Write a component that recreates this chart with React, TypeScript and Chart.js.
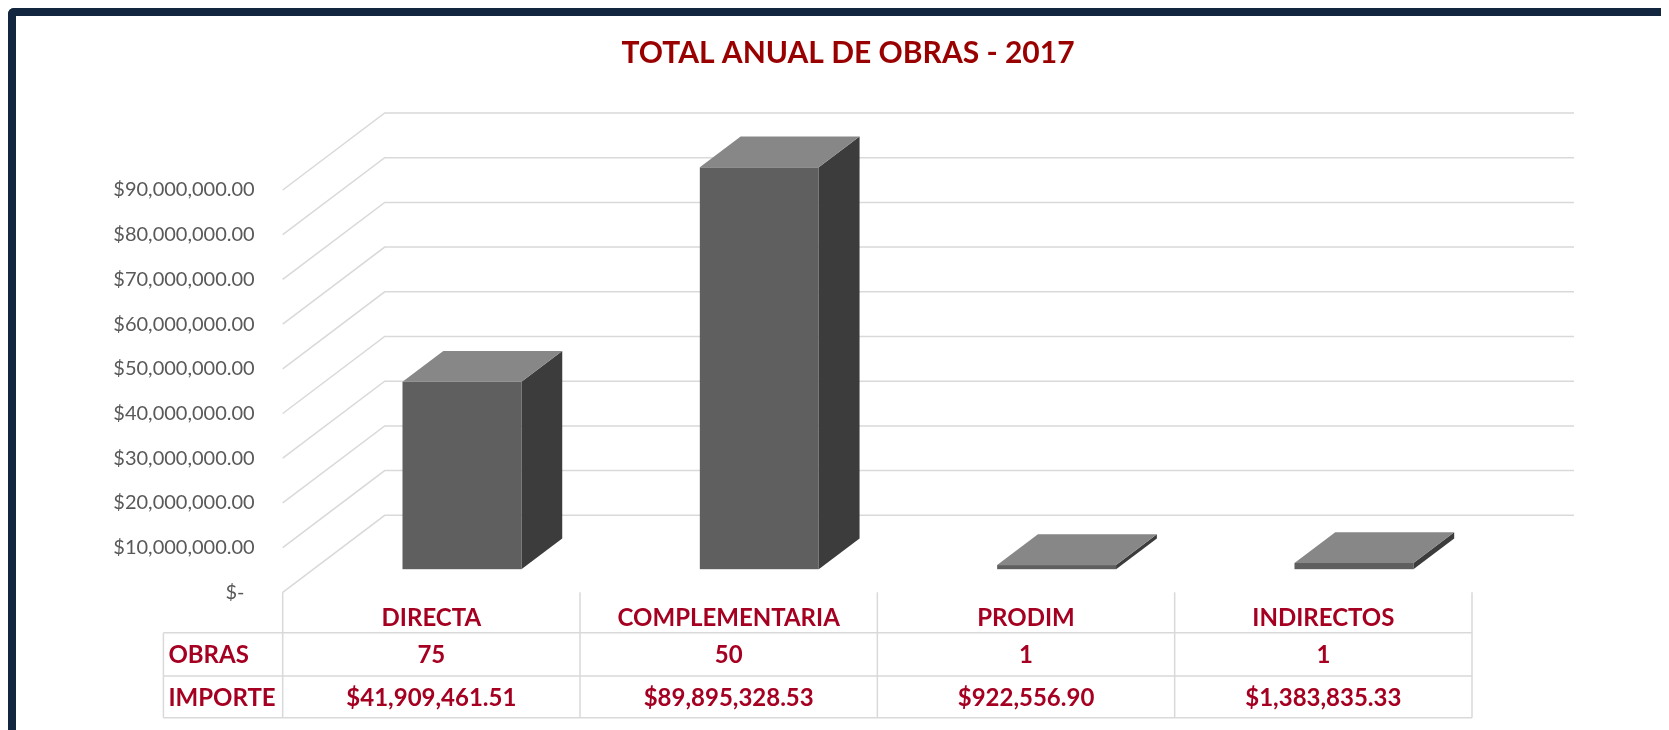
import React, { useEffect, useRef } from "react";
import { Chart, registerables } from "chart.js";

Chart.register(...registerables);

// ---------- data ----------
const TITLE = "TOTAL ANUAL DE OBRAS - 2017";
const categories = ["DIRECTA", "COMPLEMENTARIA", "PRODIM", "INDIRECTOS"];
const obras = [75, 50, 1, 1];
const importes = [41909461.51, 89895328.53, 922556.9, 1383835.33];
const rowLabels = ["OBRAS", "IMPORTE"];
const Y_MAX = 90000000;
const Y_STEP = 10000000;

// ---------- layout / style ----------
const W = 1653;
const H = 714;
const OFF = 16; // canvas origin in page coordinates
const FRONT_LEFT = 282.7 - OFF;
const FRONT_RIGHT = 1472 - OFF;
const FRONT_TOP = 190 - OFF;
const FRONT_BOTTOM = 592.3 - OFF;
const DEPTH_X = 102;
const DEPTH_Y = -77;
const BAR_Z0 = 0.3;
const BAR_Z1 = 0.7;
const TABLE_LEFT = 163.4 - OFF;
const ROW_LINES = [632.7 - OFF, 676 - OFF, 717.7 - OFF];
const TITLE_X = 848 - OFF;
const TITLE_Y = 53 - OFF;

const GRID = "#d9d9d9";
const FRONT_C = "#5f5f5f";
const SIDE_C = "#3c3c3c";
const TOP_C = "#878787";
const TITLE_C = "#990000";
const TABLE_C = "#a50021";
const AXIS_C = "#595959";
const FONT = "Lato, 'Open Sans', sans-serif";

const money = (v: number) =>
  "$" + v.toLocaleString("en-US", { minimumFractionDigits: 2, maximumFractionDigits: 2 });

const threeD = {
  id: "threeD",
  beforeDatasetsDraw(chart: any) {
    const { ctx, chartArea } = chart;
    const ys = chart.scales.y;
    ctx.save();
    ctx.strokeStyle = GRID;
    ctx.lineWidth = 1.5;
    ys.ticks.forEach((t: any) => {
      const y = ys.getPixelForValue(t.value);
      ctx.beginPath();
      ctx.moveTo(chartArea.left, y);
      ctx.lineTo(chartArea.left + DEPTH_X, y + DEPTH_Y);
      ctx.lineTo(chartArea.right + DEPTH_X, y + DEPTH_Y);
      ctx.stroke();
    });
    ctx.restore();
  },
  afterDatasetsDraw(chart: any) {
    const { ctx } = chart;
    const meta = chart.getDatasetMeta(0);
    ctx.save();
    meta.data.forEach((el: any) => {
      const { x, y, base, width } = el.getProps(["x", "y", "base", "width"], true);
      const l = x - width / 2 + BAR_Z0 * DEPTH_X;
      const r = x + width / 2 + BAR_Z0 * DEPTH_X;
      const t = y + BAR_Z0 * DEPTH_Y;
      const b = base + BAR_Z0 * DEPTH_Y;
      const dx = (BAR_Z1 - BAR_Z0) * DEPTH_X;
      const dy = (BAR_Z1 - BAR_Z0) * DEPTH_Y;
      ctx.fillStyle = SIDE_C;
      ctx.beginPath();
      ctx.moveTo(r, t);
      ctx.lineTo(r + dx, t + dy);
      ctx.lineTo(r + dx, b + dy);
      ctx.lineTo(r, b);
      ctx.closePath();
      ctx.fill();
      ctx.fillStyle = TOP_C;
      ctx.beginPath();
      ctx.moveTo(l, t);
      ctx.lineTo(l + dx, t + dy);
      ctx.lineTo(r + dx, t + dy);
      ctx.lineTo(r, t);
      ctx.closePath();
      ctx.fill();
      ctx.fillStyle = FRONT_C;
      ctx.fillRect(l, t, r - l, b - t);
    });
    ctx.restore();
  },
  afterDraw(chart: any) {
    const { ctx, chartArea } = chart;
    const xs = chart.scales.x;
    const n = categories.length;
    const step = xs.getPixelForValue(1) - xs.getPixelForValue(0);
    const bounds: number[] = [];
    for (let i = 0; i <= n; i++) bounds.push(xs.getPixelForValue(0) - step / 2 + i * step);
    ctx.save();
    // title
    ctx.fillStyle = TITLE_C;
    ctx.font = `bold 30px ${FONT}`;
    ctx.textAlign = "center";
    ctx.textBaseline = "middle";
    ctx.fillText(TITLE, TITLE_X, TITLE_Y);

    ctx.strokeStyle = GRID;
    ctx.lineWidth = 1.5;
    ctx.beginPath();
    bounds.forEach((bx) => {
      ctx.moveTo(bx, chartArea.bottom);
      ctx.lineTo(bx, ROW_LINES[2]);
    });
    ctx.moveTo(TABLE_LEFT, ROW_LINES[0]);
    ctx.lineTo(TABLE_LEFT, ROW_LINES[2]);
    ROW_LINES.forEach((ry) => {
      ctx.moveTo(TABLE_LEFT, ry);
      ctx.lineTo(bounds[n], ry);
    });
    ctx.stroke();

    ctx.fillStyle = TABLE_C;
    ctx.font = `bold 24px ${FONT}`;
    ctx.textBaseline = "middle";
    const rows = [obras.map((v) => String(v)), importes.map(money)];
    rows.forEach((row, ri) => {
      const cy = (ROW_LINES[ri] + ROW_LINES[ri + 1]) / 2 + 1;
      ctx.textAlign = "left";
      ctx.fillText(rowLabels[ri], TABLE_LEFT + 5, cy);
      ctx.textAlign = "center";
      row.forEach((txt, ci) => {
        ctx.fillText(txt, (bounds[ci] + bounds[ci + 1]) / 2, cy);
      });
    });
    ctx.restore();
  },
};

export default function App() {
  const ref = useRef<HTMLCanvasElement | null>(null);
  useEffect(() => {
    let chart: Chart | null = null;
    let cancelled = false;
    const make = () => {
      if (cancelled || !ref.current) return;
      chart = new Chart(ref.current, {
        type: "bar",
        data: {
          labels: categories,
          datasets: [
            {
              data: importes,
              backgroundColor: "rgba(0,0,0,0)",
              borderWidth: 0,
              barPercentage: 0.4,
              categoryPercentage: 1,
            },
          ],
        },
        options: {
          animation: false,
          responsive: false,
          events: [],
          layout: { padding: { left: 0, right: W - FRONT_RIGHT, top: FRONT_TOP, bottom: 0 } },
          plugins: {
            legend: { display: false },
            tooltip: { enabled: false },
            title: { display: false },
          },
          scales: {
            x: {
              grid: { display: false, drawTicks: false, tickLength: 0 },
              border: { display: false },
              ticks: {
                color: TABLE_C,
                font: { family: FONT, size: 24, weight: "bold" },
                padding: 12,
                maxRotation: 0,
                autoSkip: false,
              },
              afterFit: (s: any) => {
                s.height = H - FRONT_BOTTOM;
              },
            },
            y: {
              min: 0,
              max: Y_MAX,
              grid: { display: false, drawTicks: false, tickLength: 0 },
              border: { display: false },
              ticks: {
                stepSize: Y_STEP,
                color: AXIS_C,
                font: { family: FONT, size: 20 },
                padding: 28,
                callback: (v: any) => (Number(v) === 0 ? "$-  " : money(Number(v))),
              },
              afterFit: (s: any) => {
                s.width = FRONT_LEFT;
              },
            },
          },
        },
        plugins: [threeD],
      } as any);
    };
    const fonts: any = (document as any).fonts;
    if (fonts && fonts.load) {
      Promise.all([fonts.load(`bold 24px Lato`), fonts.load(`20px Lato`)])
        .catch(() => null)
        .then(make);
    } else make();
    return () => {
      cancelled = true;
      if (chart) chart.destroy();
    };
  }, []);

  return (
    <>
      <style>{`html,body{overflow:hidden;}`}</style>
      <div
        style={{
          position: "relative",
          width: 1700,
          height: 760,
          boxSizing: "border-box",
          borderTop: "8px solid #12263f",
          borderLeft: "8px solid #12263f",
          borderTopLeftRadius: 6,
          background: "#ffffff",
        }}
      >
        <canvas ref={ref} width={W} height={H} style={{ display: "block" }} />
      </div>
    </>
  );
}
